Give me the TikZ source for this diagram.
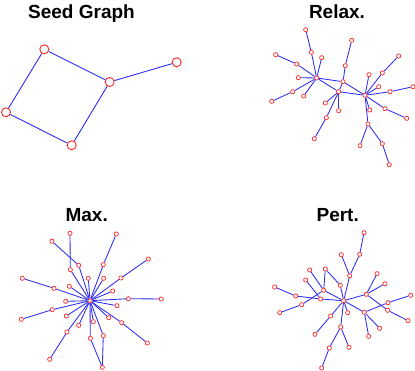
\documentclass[tikz,border=0pt]{standalone}
\usepackage{fontspec}
\setmainfont{Liberation Sans}
\definecolor{nodered}{RGB}{250,40,40}
\definecolor{edgeblue}{RGB}{45,45,245}
\pgfdeclarelayer{back}
\pgfdeclarelayer{bg}
\pgfsetlayers{back,bg,main}
\begin{document}
\begin{tikzpicture}[x=1pt,y=-1pt,
  title/.style={font=\fontsize{19}{19}\selectfont\bfseries, anchor=base, inner sep=0pt},
  bignode/.style={circle, draw=nodered, fill=white, line width=0.9pt, minimum size=9pt, inner sep=0pt},
  sn/.style={circle, draw=nodered, fill=white, line width=0.7pt, minimum size=4.2pt, inner sep=0pt},
  bigedge/.style={draw=edgeblue, line width=0.9pt},
  edge/.style={draw=edgeblue, line width=0.85pt}]
\useasboundingbox (0,0) rectangle (415,371);
\begin{pgfonlayer}{back}
\fill[white] (0,0) rectangle (415,371);
\end{pgfonlayer}

% titles
\node[title] (t1) at (81.5,18.3) {Seed Graph};
\node[title] (t2) at (337,18.3) {Relax.};
\node[title] (t3) at (86.7,221.7) {Max.};
\node[title] (t4) at (337.7,221.7) {Pert.};

% seed graph
\node[bignode] (sA) at (44.3,49.3) {};
\node[bignode] (sB) at (176.7,62.3) {};
\node[bignode] (sC) at (109.7,82) {};
\node[bignode] (sD) at (6,112.3) {};
\node[bignode] (sE) at (71.7,145.3) {};
\begin{pgfonlayer}{bg}
\foreach \a/\b in {A/C,C/B,A/D,D/E,E/C} \draw[bigedge] (s\a) -- (s\b);
\end{pgfonlayer}

% relax
\foreach \n/\x/\y in {1/305.7/29.7,2/351.7/40.3,3/311.3/52.3,4/275.7/54.7,5/321.7/57.7,
  6/398.7/56.0,7/296.7/64.0,8/345.3/65.7,9/369.0/74.7,10/382.3/73.0,11/298.3/77.7,
  12/316.7/78.0,13/343.0/81.7,14/378.7/86.7,15/413.0/86.7,16/292.7/91.7,17/338.7/91.7,
  18/390.0/91.7,19/303.7/96.0,20/365.0/95.3,21/271.7/101.3,22/325.3/103.0,23/338.7/110.7,
  24/369.7/110.0,25/385.0/108.7,26/326.3/117.7,27/406.7/118.3,28/368.0/124.0,
  29/314.3/138.7,30/360.0/145.7,31/382.3/143.7,32/389.3/164.7}
  \node[sn] (r\n) at (\x,\y) {};
\begin{pgfonlayer}{bg}
\foreach \a/\b in {1/3,3/12,4/7,7/12,5/12,11/12,21/16,16/12,19/12,12/13,12/17,2/8,8/13,
  13/17,13/20,17/22,17/23,17/26,26/29,17/20,20/9,20/10,10/6,20/14,20/18,18/15,20/24,
  20/25,25/27,20/28,28/30,28/31,31/32}
  \draw[edge] (r\a) -- (r\b);
\end{pgfonlayer}

% max
\node[sn] (m0) at (90.0,300.7) {};
\foreach \n/\x/\y in {1/70.0/233.3,2/116.3/234.0,3/52.0/241.3,4/148.3/259.0,5/78.7/265.3,
  6/103.3/264.7,7/70.3/269.7,8/88.3/278.3,9/103.7/278.3,10/121.0/278.0,11/22.3/278.3,
  12/54.0/288.3,13/69.3/286.3,14/112.7/291.0,15/65.7/301.3,16/128.3/298.7,17/161.3/299.0,
  18/117.0/305.7,19/52.3/309.7,20/21.3/319.3,21/66.3/316.0,22/108.7/317.7,23/93.3/321.7,
  24/78.7/325.3,25/121.7/322.7,26/67.0/332.0,27/103.3/335.7,28/90.3/338.3,29/147.3/343.0,
  30/49.7/359.3,31/102.3/367.3}
  \node[sn] (m\n) at (\x,\y) {};
\begin{pgfonlayer}{bg}
\foreach \b in {5,6,7,8,9,10,12,13,14,15,16,18,19,21,22,23,24,25,26,27,28}
  \draw[edge] (m0) -- (m\b);
\foreach \a/\b in {1/7,3/5,2/6,4/10,11/12,17/16,20/19,29/25,30/26,31/27,31/28}
  \draw[edge] (m\a) -- (m\b);
\end{pgfonlayer}

% pert
\foreach \n/\x/\y in {1/364.0/232.7,2/341.3/254.7,3/359.7/254.3,4/309.7/270.0,5/325.3/269.0,
  6/349.7/275.7,7/377.0/273.7,8/305.7/280.0,9/385.0/283.7,10/340.3/285.3,11/323.7/290.3,
  12/274.7/287.0,13/295.7/296.0,14/366.3/294.3,15/410.7/295.3,16/320.7/299.0,
  17/343.7/300.7,18/388.0/302.7,19/301.7/304.7,20/347.7/312.7,21/364.3/312.3,
  22/387.7/310.3,23/279.7/312.7,24/330.7/316.0,25/408.0/320.7,26/340.7/327.0,
  27/379.7/328.3,28/315.0/334.3,29/368.7/336.3,30/329.3/348.0,31/349.0/347.3,32/321.7/368.0}
  \node[sn] (p\n) at (\x,\y) {};
\begin{pgfonlayer}{bg}
\foreach \a/\b in {17/6,6/3,3/1,6/2,17/10,10/5,5/11,17/11,11/4,11/19,19/23,17/16,16/8,
  16/13,13/12,17/14,14/7,14/9,14/22,22/25,17/21,21/18,18/15,21/27,21/29,17/20,17/24,
  24/28,17/26,26/30,30/32,26/31}
  \draw[edge] (p\a) -- (p\b);
\end{pgfonlayer}
\end{tikzpicture}
\end{document}
